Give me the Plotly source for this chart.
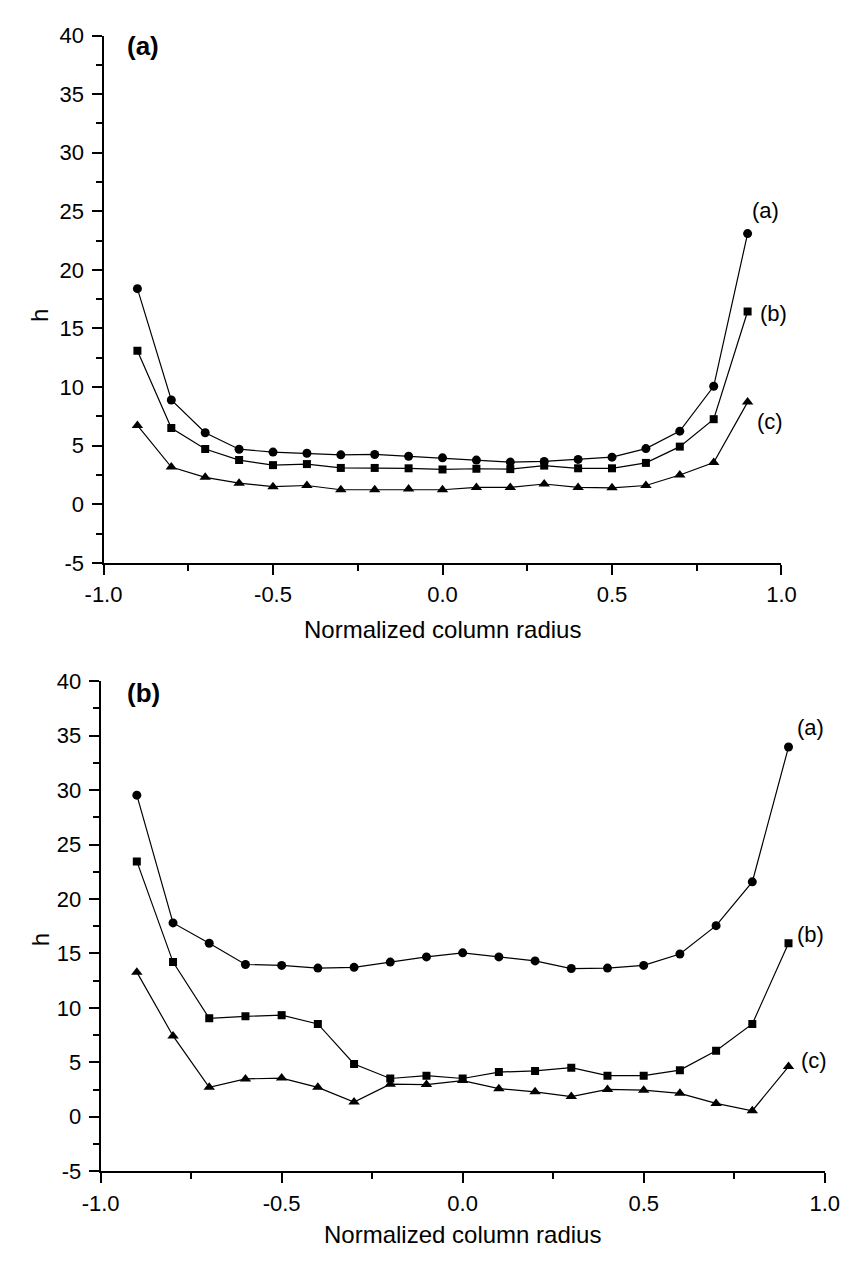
import plotly.graph_objects as go

# ---------------- data ----------------
radius = [-0.9, -0.8, -0.7, -0.6, -0.5, -0.4, -0.3, -0.2, -0.1, 0.0,
          0.1, 0.2, 0.3, 0.4, 0.5, 0.6, 0.7, 0.8, 0.9]

# panel (a)
pa_a = [18.4, 8.9, 6.1, 4.7, 4.45, 4.35, 4.22, 4.25, 4.1, 3.96,
        3.77, 3.6, 3.66, 3.83, 4.02, 4.75, 6.24, 10.07, 23.1]
pa_b = [13.1, 6.5, 4.72, 3.77, 3.34, 3.43, 3.1, 3.1, 3.07, 2.97,
        3.03, 3.0, 3.3, 3.07, 3.07, 3.53, 4.92, 7.26, 16.45]
pa_c = [6.73, 3.18, 2.3, 1.8, 1.5, 1.6, 1.24, 1.24, 1.3, 1.24,
        1.44, 1.44, 1.73, 1.44, 1.4, 1.6, 2.5, 3.56, 8.72]

# panel (b)
pb_a = [29.53, 17.8, 15.93, 13.98, 13.9, 13.65, 13.72, 14.2, 14.68, 15.05,
        14.68, 14.31, 13.61, 13.65, 13.9, 14.94, 17.55, 21.57, 33.95]
pb_b = [23.45, 14.2, 9.04, 9.22, 9.33, 8.52, 4.84, 3.51, 3.77, 3.51,
        4.1, 4.21, 4.5, 3.77, 3.77, 4.28, 6.05, 8.52, 15.93]
pb_c = [13.28, 7.42, 2.7, 3.47, 3.55, 2.7, 1.35, 2.99, 2.95, 3.32,
        2.58, 2.29, 1.85, 2.51, 2.44, 2.15, 1.22, 0.55, 4.61]

curve_labels = ["(a)", "(b)", "(c)"]
panel_labels = ["(a)", "(b)"]
x_ticks = [-1.0, -0.5, 0.0, 0.5, 1.0]
x_ticktext = ["-1.0", "-0.5", "0.0", "0.5", "1.0"]
y_ticks = [-5, 0, 5, 10, 15, 20, 25, 30, 35, 40]
y_ticktext = ["-5", "0", "5", "10", "15", "20", "25", "30", "35", "40"]
x_title = "Normalized column radius"
y_title = "h"

# ---------------- figure ----------------
W, H = 857, 1262
FONT = "Liberation Sans, Arial, sans-serif"

fig = go.Figure()

symbols = ["circle", "square", "triangle-up"]
sizes = [9, 8, 10]

for series, (xa, ya) in [((pa_a, pa_b, pa_c), ("x", "y")),
                         ((pb_a, pb_b, pb_c), ("x2", "y2"))]:
    for vals, sym, sz in zip(series, symbols, sizes):
        fig.add_trace(go.Scatter(
            x=radius, y=vals, mode="lines+markers",
            line=dict(color="black", width=1.2),
            marker=dict(symbol=sym, size=sz, color="black"),
            xaxis=xa, yaxis=ya, showlegend=False, hoverinfo="skip"))

def xaxis_cfg(domain, anchor):
    return dict(domain=domain, anchor=anchor, range=[-1.0, 1.0],
                tickvals=x_ticks, ticktext=x_ticktext,
                ticks="outside", ticklen=10, tickwidth=2, tickcolor="black",
                minor=dict(tickvals=[-0.75, -0.25, 0.25, 0.75], ticks="outside",
                           ticklen=6, tickwidth=2, tickcolor="black"),
                showline=True, linewidth=2, linecolor="black",
                showgrid=False, zeroline=False,
                tickfont=dict(family=FONT, size=22, color="black"),
                ticklabelstandoff=1)

def yaxis_cfg(domain, anchor):
    return dict(domain=domain, anchor=anchor, range=[-5, 40],
                tickvals=y_ticks, ticktext=y_ticktext,
                ticks="outside", ticklen=10, tickwidth=2, tickcolor="black",
                minor=dict(dtick=2.5, ticks="outside",
                           ticklen=6, tickwidth=2, tickcolor="black"),
                showline=True, linewidth=2, linecolor="black",
                showgrid=False, zeroline=False,
                tickfont=dict(family=FONT, size=22, color="black"),
                ticklabelstandoff=3)

top_x = [88 / W, 794 / W]
top_y = [1 - 562 / H, 1 - 24 / H]
bot_x = [85 / W, 839 / W]
bot_y = [1 - 1182.6 / H, 1 - 682.7 / H]

fig.update_layout(
    width=W, height=H,
    margin=dict(l=0, r=0, t=0, b=0),
    paper_bgcolor="white", plot_bgcolor="white",
    font=dict(family=FONT, color="black"),
    xaxis=xaxis_cfg(top_x, "y"),
    yaxis=yaxis_cfg(top_y, "x"),
    xaxis2=xaxis_cfg(bot_x, "y2"),
    yaxis2=yaxis_cfg(bot_y, "x2"),
)

ann = []
# curve labels
for (xr, yr), pos in [(("x", "y"), [(0.952, 25.1), (0.975, 16.3), (0.966, 7.06)]),
                      (("x2", "y2"), [(0.960, 35.7), (0.960, 16.7), (0.971, 5.14)])]:
    for txt, (xv, yv) in zip(curve_labels, pos):
        ann.append(dict(x=xv, y=yv, xref=xr, yref=yr, text=txt, showarrow=False,
                        xanchor="center", yanchor="middle",
                        font=dict(family=FONT, size=22, color="black")))
# panel labels
ann.append(dict(x=-0.938, y=39.1, xref="x", yref="y", text="<b>" + panel_labels[0] + "</b>",
                showarrow=False, xanchor="left", yanchor="middle",
                font=dict(family=FONT, size=26, color="black")))
ann.append(dict(x=-0.934, y=38.9, xref="x2", yref="y2", text="<b>" + panel_labels[1] + "</b>",
                showarrow=False, xanchor="left", yanchor="middle",
                font=dict(family=FONT, size=26, color="black")))
# axis titles
for xc, yc in [((88 + 794) / 2, 630), ((85 + 839) / 2, 1247)]:
    ann.append(dict(x=xc / W, y=1 - yc / H, xref="paper", yref="paper", text=x_title,
                    showarrow=False, xanchor="center", yanchor="middle",
                    font=dict(family=FONT, size=24, color="black")))
for xc, yc in [(22, 310), (22, 947)]:
    ann.append(dict(x=xc / W, y=1 - yc / H, xref="paper", yref="paper", text=y_title,
                    showarrow=False, xanchor="center", yanchor="middle", textangle=-90,
                    font=dict(family=FONT, size=24, color="black")))
fig.update_layout(annotations=ann)

fig.write_html("out.html", config={"displayModeBar": False},
               post_script="document.body.style.margin='0';")
